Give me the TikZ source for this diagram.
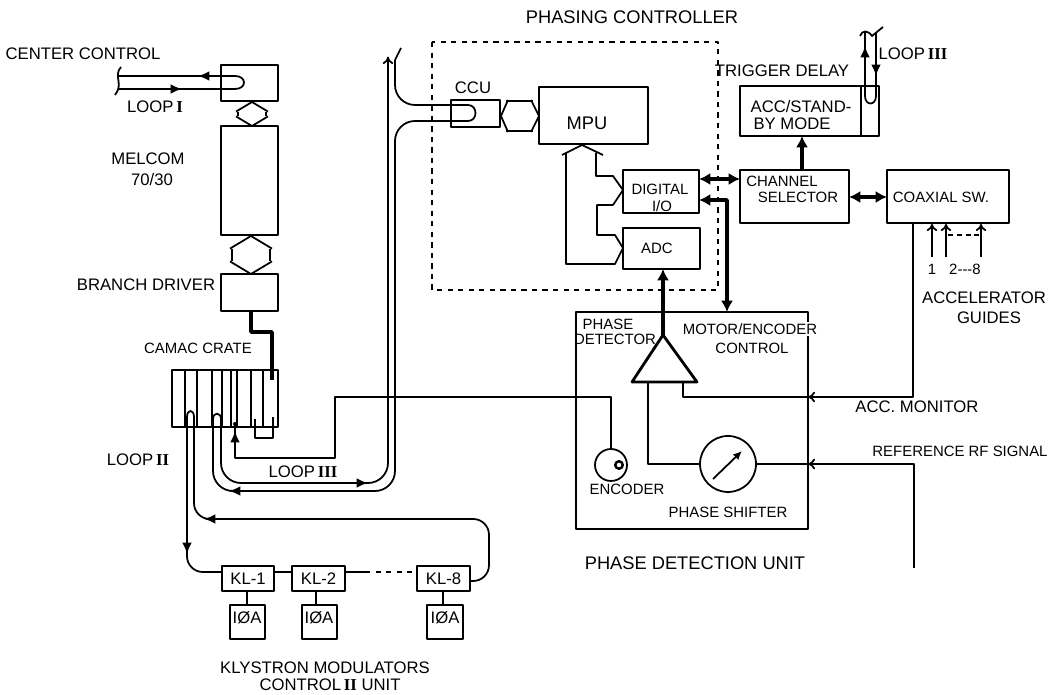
\documentclass[tikz,border=0pt]{standalone}
\usepackage{fontspec}
\setmainfont{Liberation Sans}
\newfontfamily\romfont{Liberation Serif}
\usetikzlibrary{arrows.meta,calc}
\tikzset{
  mainlab/.style={inner sep=0pt,font=\fontsize{9.5}{11}\selectfont},
  medlab/.style={inner sep=0pt,font=\fontsize{8.5}{10}\selectfont},
  biglab/.style={inner sep=0pt,font=\fontsize{10.4}{12}\selectfont},
  blockbox/.style={draw,line width=1pt,inner sep=0pt},
  linkline/.style={line width=1pt},
  boldline/.style={line width=2.1pt},
  midtip/.style={line width=1pt,-{Latex[length=6.5pt,width=5.5pt]}},
  opentip/.style={line width=1pt,-{To[length=4pt,width=6pt]}},
  boldtip/.style={boldline,{Latex[length=6.5pt,width=7pt]}-{Latex[length=6.5pt,width=7pt]}}
}
\newcommand \myroman[1]{{\romfont\bfseries #1}}
\newcommand \mydrawbox[5]
{
\node[blockbox,minimum width={(#4-#2)*0.02cm},minimum height={(#5-#3)*0.02cm}] (#1) at ({(#2+#4)/2},{(#3+#5)/2}) {};
}
\newcommand \mybusv[3]
{
\draw[linkline] ($(#1)+(-#3,#3*0.6)$) -- (#1) -- ($(#1)+(#3,#3*0.6)$);
\draw[linkline] ($(#2)+(-#3,-#3*0.6)$) -- (#2) -- ($(#2)+(#3,-#3*0.6)$);
\draw[linkline] ($(#1)+(-#3+2,#3*0.6)$) -- ($(#2)+(-#3+2,-#3*0.6)$);
\draw[linkline] ($(#1)+(#3-2,#3*0.6)$) -- ($(#2)+(#3-2,-#3*0.6)$);
}
\newcommand \mytip[5]
{
\draw[#5] (#1-#3,#2-#4) -- (#1,#2);
}
\begin{document}
\begin{tikzpicture}[x=0.02cm,y=-0.02cm,line join=round]
\useasboundingbox (0,0) rectangle (1063,695);
% left column
\mydrawbox{ctl}{221}{65}{278}{101}
\mydrawbox{melcom}{221}{126}{278}{235}
\mydrawbox{bdriver}{221}{274}{278}{311}
\mydrawbox{crate}{172}{370}{278}{427}
\foreach \x in {185,197,212,222,231,237,251,263}
  \draw[linkline] (\x,0 |- crate.north) -- (\x,0 |- crate.south);
\coordinate (hexa) at (252,102);
\coordinate (hexb) at (252,126);
\coordinate (hexc) at (251,236);
\coordinate (hexd) at (251,274);
\mybusv{hexa}{hexb}{16}
\mybusv{hexc}{hexd}{21}
\node[mainlab] (tcenter) at (83,54) {CENTER CONTROL};
\node[mainlab] (tloopa) at (155,107) {LOOP\,\myroman{I}};
\node[mainlab] (tmelcom) at (148,159) {MELCOM};
\node[mainlab] (tseventy) at (152,180) {70/30};
\node[mainlab] (tbranch) at (146,285) {BRANCH DRIVER};
\node[medlab] (tcamac) at (198,348) {CAMAC CRATE};
\node[mainlab] (tloopb) at (138,460) {LOOP\,\myroman{II}};
% loop I
\coordinate (brka) at (119,76);
\coordinate (brkb) at (119,89);
\draw[linkline] (brka) -- (235,76) .. controls (247,76) and (247,89) .. (235,89) -- (brkb);
\draw[linkline] (121,67) .. controls (113,76) and (124,84) .. (115,95);
\mytip{198}{76}{-14}{0}{midtip}
\mytip{182}{89}{14}{0}{midtip}
% crate links
\coordinate (cratein) at (272,380);
\draw[boldline] (251,312) -- (251,332) -- (272,332) -- (cratein);
\draw[line width=1.4pt] (255,419) -- (255,438) -- (273,438) -- (273,417);
% klystron row
\mydrawbox{kla}{222}{566}{274}{591}
\mydrawbox{klb}{292}{566}{345}{591}
\mydrawbox{klc}{417}{566}{470}{591}
\mydrawbox{ioa}{230}{605}{265}{639}
\mydrawbox{iob}{302}{605}{337}{639}
\mydrawbox{ioc}{427}{605}{463}{639}
\node[mainlab] at (kla) {KL-1};
\node[mainlab] at (klb) {KL-2};
\node[mainlab] at (klc) {KL-8};
\node[mainlab] (tioa) at (247,618) {IØA};
\node[mainlab] (tiob) at (319,618) {IØA};
\node[mainlab] (tioc) at (445,618) {IØA};
\draw[linkline] (247,591) -- (247,605);
\draw[linkline] (316,591) -- (316,605);
\draw[linkline] (443,591) -- (443,605);
\coordinate (klain) at (222,572);
\coordinate (klaout) at (274,572);
\coordinate (klbin) at (292,572);
\coordinate (klbout) at (345,572);
\coordinate (klcin) at (417,572);
\coordinate (klcout) at (470,581);
\draw[linkline] (klaout) -- (klbin);
\draw[linkline] (klbout) -- (365,572);
\draw[linkline,dashed] (365,572) -- (klcin);
\node[mainlab] (tklya) at (325,668) {KLYSTRON MODULATORS};
\node[mainlab] (tklyb) at (330,685) {CONTROL\,\myroman{II} UNIT};
% loop II
\coordinate (ulefta) at (187,417);
\coordinate (urighta) at (194,417);
\draw[linkline,rounded corners=9pt] (klain) -- (187,572) -- (ulefta);
\draw[linkline] (ulefta) .. controls (187,409) and (194,409) .. (urighta);
\draw[linkline,rounded corners=9pt] (urighta) -- (194,519) -- (489,519) -- (489,581) -- (klcout);
\mytip{187}{554}{0}{14}{midtip}
\mytip{204}{519}{-14}{0}{midtip}
% loop III
\coordinate (brkc) at (395,60);
\coordinate (brkd) at (388,57);
\coordinate (ccua) at (468,105);
\coordinate (ccub) at (468,121);
\coordinate (uleftb) at (213,419);
\coordinate (urightb) at (221,419);
\draw[linkline] (brkc) -- (401,48);
\draw[linkline,rounded corners=0.4cm] (brkc) -- (395,105) -- (ccua);
\draw[linkline] (ccua) .. controls (478,105) and (478,121) .. (ccub);
\draw[linkline,rounded corners=0.4cm] (ccub) -- (395,121) -- (395,491) -- (213,491) -- (uleftb);
\draw[linkline] (uleftb) .. controls (213,412) and (221,412) .. (urightb);
\draw[linkline,rounded corners=0.4cm] (urightb) -- (221,483) -- (388,483) -- (brkd);
\mytip{388}{57}{0}{-8}{opentip}
\mytip{368}{483}{14}{0}{midtip}
\mytip{229}{491}{-14}{0}{midtip}
\node[mainlab] (tloopc) at (303,472) {LOOP\,\myroman{III}};
% phasing controller
\node[biglab] (tphasing) at (632,17) {PHASING CONTROLLER};
\draw[linkline,dashed] (432,42) rectangle (718,290);
\mydrawbox{ccu}{451}{100}{500}{127}
\mydrawbox{mpu}{539}{87}{648}{144}
\mydrawbox{dio}{623}{170}{699}{213}
\mydrawbox{adc}{623}{228}{700}{269}
\node[mainlab] (tccu) at (473,88) {CCU};
\node[biglab] (tmpu) at (587,123) {MPU};
\node[medlab] (tdigital) at (660,189) {DIGITAL};
\node[medlab] (tio) at (662,206) {I/O};
\node[medlab] (tadc) at (657,248) {ADC};
\coordinate (ccutip) at (501,116);
\coordinate (mputip) at (539,116);
\draw[linkline] (508,100) -- (ccutip) -- (508,132) (531,100) -- (mputip) -- (531,132);
\draw[linkline] (506,101) -- (533,101) (506,131) -- (533,131);
\coordinate (mpubot) at (582,145);
\coordinate (diotip) at (623,190);
\coordinate (adctip) at (623,248);
\draw[linkline] (562,155) -- (mpubot) -- (603,155);
\draw[linkline] (566,153) -- (566,264) -- (615,264) -- (adctip) -- (615,235) -- (597,235) -- (597,205) -- (613,205) -- (diotip) -- (613,176) -- (596,176) -- (596,153);
% right column
\mydrawbox{chsel}{740}{170}{849}{223}
\mydrawbox{accmode}{740}{86}{879}{136}
\mydrawbox{coax}{887}{170}{1009}{223}
\draw[linkline] (861,86) -- (861,136);
\node[mainlab] (ttrigger) at (782,71) {TRIGGER DELAY};
\node[mainlab] (taccst) at (801,107) {ACC/STAND-};
\node[mainlab] (tbymode) at (792,124) {BY MODE};
\node[medlab] (tchannel) at (782,181) {CHANNEL};
\node[medlab] (tselector) at (798,197) {SELECTOR};
\node[medlab] (tcoax) at (941,197) {COAXIAL SW.};
\coordinate (diochan) at (699,179);
\coordinate (chandio) at (740,179);
\coordinate (chancoax) at (849,197);
\coordinate (coaxchan) at (887,197);
\coordinate (chantop) at (802,170);
\coordinate (acclow) at (802,136);
\draw[boldtip] (diochan) -- (chandio);
\draw[boldtip] (chancoax) -- (coaxchan);
\draw[boldline,-{Latex[length=6.5pt,width=7pt]}] (chantop) -- (acclow);
% loop III at the trigger delay
\coordinate (brke) at (860,36);
\coordinate (brkf) at (883,27);
\draw[linkline] (brke) .. controls (862,30) and (868,30) .. (872,36) -- (brkf);
\draw[linkline] (865,32) -- (865,96) .. controls (865,106) and (876,106) .. (876,96) -- (876,33);
\mytip{865}{46}{0}{-12}{midtip}
\mytip{876}{76}{0}{12}{midtip}
\node[mainlab] (tloopd) at (913,54) {LOOP\,\myroman{III}};
% accelerator guides
\coordinate (cxa) at (932,224);
\coordinate (cxb) at (946,224);
\coordinate (cxc) at (981,224);
\draw[opentip] (932,257) -- (cxa);
\draw[opentip] (946,257) -- (cxb);
\draw[opentip] (981,257) -- (cxc);
\draw[linkline,dash pattern=on 3pt off 2pt] (948,235) -- (979,235);
\node[medlab] (tone) at (932,269) {1};
\node[medlab] (ttwo) at (965,269) {2{-}{-}{-}8};
\node[mainlab] (tacca) at (984,298) {ACCELERATOR};
\node[mainlab] (tguides) at (989,318) {GUIDES};
% phase detection unit
\mydrawbox{phunit}{576}{312}{808}{529}
\node[medlab,fill=white,inner sep=1pt] (tmotor) at (750,329) {MOTOR/ENCODER};
\node[medlab] (tcontrol) at (752,348) {CONTROL};
\node[medlab] (tphase) at (608,324) {PHASE};
\node[medlab] (tdetect) at (615,339) {DETECTOR};
\node[medlab] (tencoder) at (627,489) {ENCODER};
\node[medlab] (tshifter) at (728,512) {PHASE SHIFTER};
\node[biglab] (tdetunit) at (695,563) {PHASE DETECTION UNIT};
\node[mainlab] (tmonitor) at (917,407) {ACC. MONITOR};
\node[medlab] (treference) at (960,451) {REFERENCE RF SIGNAL};
\coordinate (apex) at (663,335);
\coordinate (detl) at (632,382);
\coordinate (detr) at (697,382);
\draw[line width=1.6pt] (apex) -- (detl) -- (detr) -- cycle;
\coordinate (adcbot) at (663,269);
\draw[boldline,-{Latex[length=6.5pt,width=7pt]}] (apex) -- (adcbot);
\coordinate (dioin) at (699,200);
\coordinate (unittop) at (727,312);
\draw[boldtip] (dioin) -- (727,200) -- (unittop);
\node[draw,circle,line width=1pt,inner sep=0pt,minimum size=1.12cm] (shifter) at (728,464) {};
\node[draw,circle,line width=1pt,inner sep=0pt,minimum size=0.64cm] (encoder) at (611,465) {};
\node[draw,circle,line width=1.4pt,inner sep=0pt,minimum size=0.15cm] (encdot) at (619,465) {};
\draw[line width=1pt,-{Latex[length=5pt,width=4.5pt]}] (713,479) -- (742,451);
% signals into the unit
\coordinate (accout) at (913,224);
\coordinate (refend) at (914,568);
\coordinate (detb) at (683,382);
\coordinate (detc) at (648,382);
\coordinate (crateback) at (235,424);
\draw[linkline] (accout) -- (913,397) -- (683,397) -- (detb);
\draw[linkline] (detc) -- (648,464) -- (shifter.west);
\draw[linkline] (shifter.east) -- (914,464) -- (refend);
\mytip{808}{397}{-8}{0}{opentip}
\mytip{808}{464}{-8}{0}{opentip}
\draw[linkline] (encoder.north) -- (611,397) -- (335,397) -- (335,458) -- (235,458) -- (crateback);
\mytip{235}{431}{0}{-14}{midtip}
\fill (crateback) circle (2);
\end{tikzpicture}
\end{document}
